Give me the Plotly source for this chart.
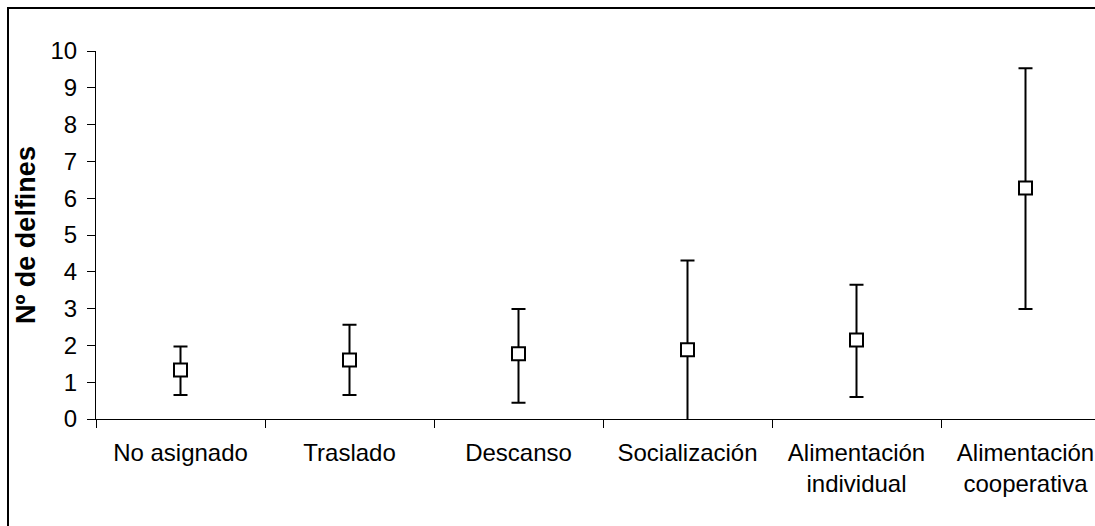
import plotly.graph_objects as go

# Behaviour categories and dolphin group size (mean with lower/upper bounds)
categories = [
    "No asignado",
    "Traslado",
    "Descanso",
    "Socialización",
    "Alimentación<br>individual",
    "Alimentación<br>cooperativa",
]
mean_dolphins = [1.33, 1.60, 1.77, 1.88, 2.15, 6.28]
upper_bound = [1.97, 2.56, 2.99, 4.31, 3.65, 9.53]
lower_bound = [0.65, 0.65, 0.44, -0.55, 0.60, 2.99]
y_ticks = list(range(0, 11))

err_plus = [u - m for u, m in zip(upper_bound, mean_dolphins)]
err_minus = [m - l for m, l in zip(mean_dolphins, lower_bound)]

FONT = "Arial, Liberation Sans, sans-serif"

fig = go.Figure()
fig.add_trace(
    go.Scatter(
        x=categories,
        y=mean_dolphins,
        mode="markers",
        marker=dict(symbol="square", size=13, color="white",
                    line=dict(color="black", width=2)),
        error_y=dict(type="data", symmetric=False, array=err_plus,
                     arrayminus=err_minus, color="black", thickness=2, width=7),
        showlegend=False,
    )
)

W, H = 1095, 526
ml, mr, mt, mb = 96, 0, 51, 107
pw, ph = W - ml - mr, H - mt - mb

def px_to_paper_x(px):
    return (px - ml) / pw

def px_to_paper_y(py):
    return (H - mb - py) / ph

fig.update_layout(
    width=W,
    height=H,
    margin=dict(l=ml, r=mr, t=mt, b=mb),
    paper_bgcolor="white",
    plot_bgcolor="white",
    font=dict(family=FONT, size=24, color="black"),
    xaxis=dict(
        type="category",
        range=[-0.5, -0.5 + pw / 169.0],
        tickson="boundaries",
        ticks="outside",
        ticklen=8,
        tickwidth=1,
        tickcolor="black",
        showline=True,
        linecolor="black",
        linewidth=1,
        showgrid=False,
        zeroline=False,
        tickfont=dict(family=FONT, size=24, color="black"),
        ticklabelstandoff=12,
    ),
    yaxis=dict(
        range=[0, 10],
        tickvals=y_ticks,
        ticks="outside",
        ticklen=8,
        tickwidth=1,
        tickcolor="black",
        showline=True,
        linecolor="black",
        linewidth=1,
        showgrid=False,
        zeroline=False,
        tickfont=dict(family=FONT, size=24, color="black"),
        ticklabelstandoff=5,
    ),
    annotations=[
        dict(
            text="<b>Nº de delfines</b>",
            xref="paper", yref="paper",
            x=px_to_paper_x(26), y=0.5,
            xanchor="center", yanchor="middle",
            textangle=-90,
            showarrow=False,
            font=dict(family=FONT, size=27, color="black"),
        )
    ],
    shapes=[
        dict(
            type="rect", xref="paper", yref="paper",
            x0=px_to_paper_x(8), x1=px_to_paper_x(1110),
            y0=px_to_paper_y(540), y1=px_to_paper_y(8),
            line=dict(color="black", width=2),
            fillcolor="rgba(0,0,0,0)",
            layer="below",
        )
    ],
)

fig.write_html("out.html")
